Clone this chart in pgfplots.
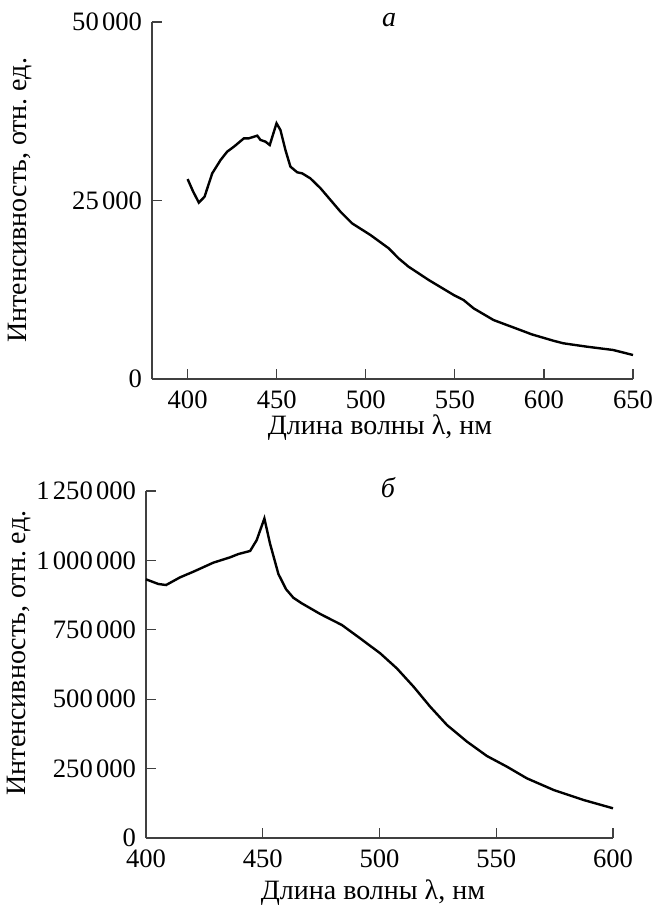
\documentclass[border=0pt]{standalone}
\usepackage{fontspec}
\setmainfont{Liberation Serif}
\usepackage{pgfplots}
\pgfplotsset{compat=1.18}
\frenchspacing
\newcommand{\ts}{\kern0.12em}
\begin{document}
\begin{tikzpicture}
\pgfplotsset{
  myax/.style={
    scale only axis,
    clip=false,
    axis x line*=bottom, axis y line*=left,
    axis line style={line width=0.6pt, black!75},
    every tick/.style={line width=0.6pt, black!75},
    major tick length=5pt,
    tick align=inside,
    scaled y ticks=false,
    scaled x ticks=false,
    tick label style={font=\fontsize{13.3}{15}\selectfont},
    yticklabel style={xshift=-1.5pt},
    xticklabel style={yshift=-2.5pt},
    label style={font=\fontsize{14}{16}\selectfont},
    anchor=south west,
  }
}
\path[use as bounding box] (0,0) rectangle (327.5pt,452.5pt);
\begin{axis}[myax, at={(76pt,263pt)}, width=240.5pt, height=178.5pt,
  xmin=380, xmax=650, ymin=0, ymax=50000,
  xtick={400,450,500,550,600,650},
  xticklabels={400,450,500,550,600,650},
  ytick={0,25000,50000},
  yticklabels={0,25\ts000,50\ts000},
  xlabel={Длина волны λ, нм},
  ylabel={Интенсивность, отн. ед.},
  xlabel style={at={(axis description cs:0.474,-0.137)}, anchor=center},
  ylabel style={at={(axis description cs:-0.274,0.501)}, anchor=center},
]
\addplot[black, line width=1.2pt] coordinates {
(400,28000) (403,26300) (406.3,24700) (409.5,25530) (413.8,28800) (418.5,30670)
(422.2,31840) (426,32540) (431.6,33710) (434.4,33710) (439.1,34080) (440.9,33480)
(443.7,33240) (446.1,32770) (449.9,35810) (452.1,34870) (454.9,32070) (457.7,29740)
(461.5,28950) (464.3,28800) (468.9,28100) (474.6,26710) (480.2,25070) (485.8,23430)
(492.3,21800) (502.6,20170) (512.9,18300) (518.4,16900) (524.0,15730) (535.3,13870)
(549.3,11770) (554.9,11060) (560.5,9900) (571.7,8260) (586.7,6860) (593.2,6250)
(605.3,5360) (610.9,5000) (624.0,4530) (638.9,4060) (650,3360)
};
\node[anchor=center, font=\fontsize{14}{16}\selectfont\itshape] at (axis description cs:0.493,1.006) {а};
\end{axis}
\begin{axis}[myax, at={(73pt,33.5pt)}, width=233.5pt, height=173.5pt,
  xmin=400, xmax=600, ymin=0, ymax=1250000,
  xtick={400,450,500,550,600},
  xticklabels={400,450,500,550,600},
  ytick={0,250000,500000,750000,1000000,1250000},
  yticklabels={0,250\ts000,500\ts000,750\ts000,1\ts000\ts000,1\ts250\ts000},
  xlabel={Длина волны λ, нм},
  ylabel={Интенсивность, отн. ед.},
  xlabel style={at={(axis description cs:0.486,-0.158)}, anchor=center},
  ylabel style={at={(axis description cs:-0.272,0.533)}, anchor=center},
]
\addplot[black, line width=1.2pt] coordinates {
(400,931800) (405.3,915000) (408.6,911300) (414.6,939000) (420.3,959300)
(428.8,991700) (436.0,1011000) (439.6,1023000) (444.6,1034000) (447.4,1073000)
(450.7,1151000) (453.1,1061000) (456.7,951000) (460,896000) (463.1,865600)
(466.7,845400) (474.6,807000) (483.9,767200) (491.7,719300) (500.3,665300)
(507.4,611300) (514.6,545000) (521.7,473000) (528.9,407000) (537.5,346900)
(546,295400) (554.6,256800) (563.1,215000) (574.6,172900) (587.4,136900) (600,107000)
};
\node[anchor=center, font=\fontsize{14}{16}\selectfont\itshape] at (axis description cs:0.518,1.009) {б};
\end{axis}
\end{tikzpicture}
\end{document}
